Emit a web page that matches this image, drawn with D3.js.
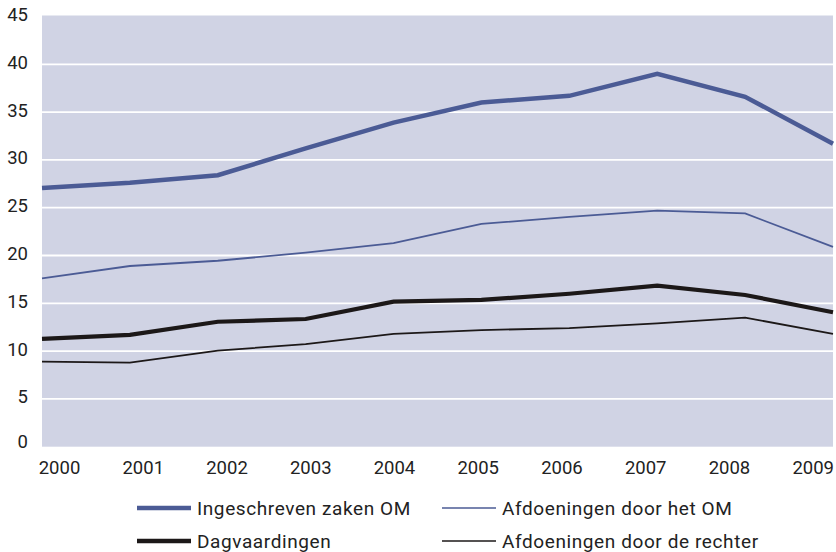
<!DOCTYPE html>
<html><head><meta charset="utf-8">
<script src="https://cdn.jsdelivr.net/npm/d3@7"></script>
<style>body{margin:0;background:#fff}svg{display:block;font-family:Roboto,"Liberation Sans",sans-serif}</style>
</head><body><svg id="c" width="836" height="552"></svg>
<script>
const years = ["2000","2001","2002","2003","2004","2005","2006","2007","2008","2009"];
const yTicks = [0,5,10,15,20,25,30,35,40,45];
const ingeschreven = [27.05,27.6,28.4,31.2,33.9,36.0,36.7,39.0,36.6,31.7];
const afdoeningenOM = [17.6,18.9,19.45,20.3,21.3,23.3,24.05,24.7,24.4,20.9];
const dagvaardingen = [11.27,11.7,13.07,13.36,15.17,15.35,16.0,16.84,15.87,14.06];
const afdoeningenRechter = [8.9,8.8,10.04,10.74,11.8,12.2,12.4,12.9,13.5,11.8];
const seriesNames = ["Ingeschreven zaken OM","Afdoeningen door het OM","Dagvaardingen","Afdoeningen door de rechter"];

const series = [
  {name:seriesNames[0], values:ingeschreven, color:"#4b5b95", w:4.5},
  {name:seriesNames[1], values:afdoeningenOM, color:"#4b5b95", w:1.8},
  {name:seriesNames[2], values:dagvaardingen, color:"#1c1818", w:4.2},
  {name:seriesNames[3], values:afdoeningenRechter, color:"#1c1818", w:1.8}
];

const svg = d3.select("#c");
const L=42, R=833, T=16.5, B=446.7;
const x = d3.scalePoint().domain(years).range([L,R]);
const xl = d3.scalePoint().domain(years).range([59,812.7]);
const y = d3.scaleLinear().domain([0,45]).range([B,T]);

svg.append("rect").attr("x",L).attr("y",T-1).attr("width",R-L).attr("height",B-T+1).attr("fill","#d0d3e4");

svg.append("g").selectAll("line").data(yTicks.filter(d=>d>0&&d<45)).join("line")
  .attr("x1",L).attr("x2",R).attr("y1",d=>y(d)).attr("y2",d=>y(d))
  .attr("stroke","#fff").attr("stroke-width",1.8);

const yAxis = svg.append("g").attr("transform","translate(28,0)")
  .call(d3.axisLeft(y).tickValues(yTicks).tickSize(0).tickPadding(0));
yAxis.select(".domain").remove();
yAxis.selectAll("text").attr("font-size",18.5).attr("fill","#222")
  .attr("font-family","Roboto,sans-serif")
  .attr("y",d=>d===0?-5:-2);

const xAxis = svg.append("g").attr("transform","translate(0,474)")
  .call(d3.axisBottom(xl).tickSize(0).tickPadding(0));
xAxis.select(".domain").remove();
xAxis.selectAll("text").attr("font-size",18.5).attr("fill","#222")
  .attr("font-family","Roboto,sans-serif").attr("dy",0).attr("y",0);

const line = d3.line().x((d,i)=>x(years[i])).y(d=>y(d));
svg.append("g").selectAll("path").data(series).join("path")
  .attr("d",d=>line(d.values)).attr("fill","none")
  .attr("stroke",d=>d.color).attr("stroke-width",d=>d.w)
  .attr("stroke-linejoin","miter");

const legPos = [[137,508],[442,508],[137,541],[442,541]];
const lg = svg.append("g").selectAll("g").data(series).join("g")
  .attr("transform",(d,i)=>`translate(${legPos[i][0]},${legPos[i][1]})`);
lg.append("line").attr("x1",0).attr("x2",54).attr("stroke",d=>d.color)
  .attr("stroke-width",d=>d.w>3?4.5:1.6);
lg.append("text").attr("x",60).attr("y",7).attr("font-size",19).attr("letter-spacing",0.6).attr("fill","#222")
  .text(d=>d.name);
</script></body></html>
